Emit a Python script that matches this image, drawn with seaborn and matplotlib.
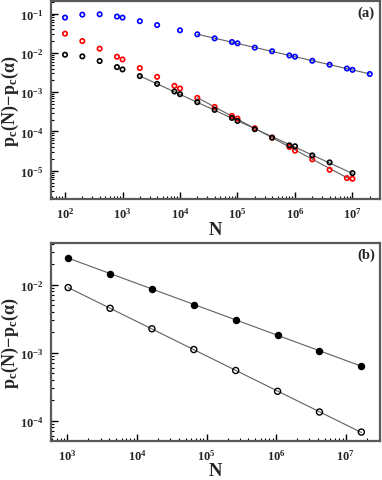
import numpy as np
import pandas as pd
import matplotlib
matplotlib.use('Agg')
import matplotlib.pyplot as plt
import matplotlib.ticker as mticker
import seaborn as sns

# Panel (a) data
n_blue = [1e2, 2e2, 4e2, 8e2, 1e3, 2e3, 4e3, 1e4, 2e4, 4e4, 8e4, 1e5, 2e5, 4e5,
          8e5, 1e6, 2e6, 4e6, 8e6, 1e7, 2e7]
p_blue = [0.079, 0.094, 0.096, 0.084, 0.079, 0.064, 0.051, 0.0375, 0.0297, 0.0234,
          0.0189, 0.0175, 0.0136, 0.0110, 0.0086, 0.0080, 0.0063, 0.0050, 0.0040,
          0.0037, 0.0029]

n_red = [1e2, 2e2, 4e2, 8e2, 1e3, 2e3, 4e3, 8e3, 1e4, 2e4, 4e4, 8e4, 1e5, 2e5,
         4e5, 8e5, 1e6, 2e6, 4e6, 8e6, 1e7]
p_red = [0.0308, 0.020, 0.0128, 0.0080, 0.0068, 0.0041, 0.00246, 0.00145, 0.00124,
         7.16e-4, 4.22e-4, 2.49e-4, 2.13e-4, 1.21e-4, 6.97e-5, 4.02e-5, 3.24e-5,
         1.95e-5, 1.06e-5, 6.5e-6, 6.25e-6]

n_black = [1e2, 2e2, 4e2, 8e2, 1e3, 2e3, 4e3, 8e3, 1e4, 2e4, 4e4, 8e4, 1e5, 2e5,
           4e5, 8e5, 1e6, 2e6, 4e6, 1e7]
p_black = [0.00898, 0.00814, 0.0062, 0.00435, 0.00379, 0.00256, 0.00163, 0.00104,
           8.9e-4, 5.56e-4, 3.54e-4, 2.21e-4, 1.85e-4, 1.14e-4, 6.97e-5, 4.43e-5,
           4.2e-5, 2.46e-5, 1.63e-5, 8.7e-6]

# smallest N used in each power-law fit
fit_from = {'blue': 2e4, 'red': 2e4, 'black': 2e3}

# Panel (b) data
n_b = [1024, 4096, 16384, 65536, 262144, 1048576, 4194304, 16777216]
p_filled = [0.0247, 0.0145, 0.00853, 0.00507, 0.00305, 0.00181, 0.00106, 0.000632]
p_open = [0.00903, 0.00448, 0.00224, 0.00111, 0.000546, 0.00027, 0.000134, 6.8e-5]

sns.set_theme(style='ticks')
plt.rcParams['font.family'] = ['Liberation Serif', 'DejaVu Serif']
plt.rcParams['font.weight'] = 'bold'
plt.rcParams['mathtext.fontset'] = 'custom'
plt.rcParams['mathtext.rm'] = 'Liberation Serif:bold'
plt.rcParams['mathtext.it'] = 'Liberation Serif:bold'
plt.rcParams['mathtext.bf'] = 'Liberation Serif:bold'

FIT_COLOR = '#606060'
SPINE_COLOR = '#5a5a5a'


def fit_line(n, p, nmin):
    n = np.asarray(n)
    p = np.asarray(p)
    m = n >= nmin
    k, b = np.polyfit(np.log10(n[m]), np.log10(p[m]), 1)
    xs = np.array([n[m].min(), n[m].max()])
    return xs, 10 ** (k * np.log10(xs) + b)


def style_axes(ax):
    ax.set_xscale('log')
    ax.set_yscale('log')
    fmt = mticker.FuncFormatter(lambda v, pos: r'$\mathbf{10^{%d}}$' % round(np.log10(v)))
    for axis in (ax.xaxis, ax.yaxis):
        axis.set_major_locator(mticker.LogLocator(base=10, numticks=20))
        axis.set_minor_locator(mticker.LogLocator(base=10, subs=np.arange(2, 10), numticks=20))
        axis.set_major_formatter(fmt)
        axis.set_minor_formatter(mticker.NullFormatter())
    ax.tick_params(which='major', direction='in', length=5, width=1, labelsize=9,
                   color='black', pad=5)
    ax.tick_params(which='minor', direction='in', length=2.5, width=0.8, color='black')
    for s in ax.spines.values():
        s.set_color(SPINE_COLOR)
        s.set_linewidth(1.6)
    ax.set_xlabel('N', fontsize=13.5, fontweight='bold', labelpad=0)
    ax.set_ylabel(r'$\mathrm{p_c(N)\!-\!p_c(\alpha)}$', fontsize=13)
    # right edge of the rotated label about 21 px from the figure's left edge
    ax.yaxis.set_label_coords(-0.091, 0.5)


fig = plt.figure(figsize=(3.82, 4.81), dpi=100)
ax1 = fig.add_axes([0.1335, 0.584, 0.861, 0.412])
ax2 = fig.add_axes([0.1335, 0.082, 0.861, 0.411])

# ---- panel (a)
for n, p, col in [(n_blue, p_blue, 'blue'), (n_red, p_red, 'red'), (n_black, p_black, 'black')]:
    xs, ys = fit_line(n, p, fit_from[col])
    sns.lineplot(x=xs, y=ys, ax=ax1, color=FIT_COLOR, linewidth=0.8)
    sns.scatterplot(x=n, y=p, ax=ax1, marker='o', s=10, facecolor='none',
                    edgecolor=col, linewidth=1.2, zorder=3)
ax1.set_xlim(57, 3e7)
ax1.set_ylim(1.9e-6, 0.21)
style_axes(ax1)
ax1.text(0.985, 0.975, '(a)', transform=ax1.transAxes, ha='right', va='top',
         fontsize=10.5, fontweight='bold')

# ---- panel (b)
for p, fc in [(p_filled, 'black'), (p_open, 'none')]:
    xs, ys = fit_line(n_b, p, 0)
    sns.lineplot(x=xs, y=ys, ax=ax2, color=FIT_COLOR, linewidth=0.8)
    sns.scatterplot(x=n_b, y=p, ax=ax2, marker='o', s=19, facecolor=fc,
                    edgecolor='black', linewidth=1.0, zorder=3)
ax2.set_xlim(580, 3.1e7)
ax2.set_ylim(5.1e-5, 0.041)
style_axes(ax2)
ax2.text(0.985, 0.975, '(b)', transform=ax2.transAxes, ha='right', va='top',
         fontsize=10.5, fontweight='bold')

fig.savefig('out.png', dpi=100)
